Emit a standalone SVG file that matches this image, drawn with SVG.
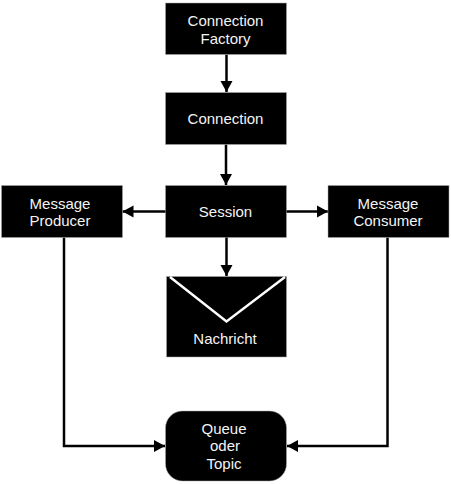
<svg xmlns="http://www.w3.org/2000/svg" width="451" height="484" viewBox="0 0 451 484">
<style>
.box{fill:#000;stroke:#aaa;stroke-width:.5}
.t{fill:#f4f4f4;font-family:"Liberation Sans",Arial,sans-serif;font-size:15px;text-anchor:middle}
.c{fill:none;stroke:#000;stroke-width:2.500}
</style>
<defs>
<marker id="a" markerUnits="userSpaceOnUse" markerWidth="13" markerHeight="14" refX="11" refY="7" orient="auto"><path d="M0 1L11 7L0 13z" fill="#000"/></marker>
</defs>
<rect width="451" height="484" fill="#fff"/>
<g id="connectors">
<path class="c" marker-end="url(#a)" d="M226.500 54.500V92"/>
<path class="c" marker-end="url(#a)" d="M226 144.500V185"/>
<path class="c" marker-end="url(#a)" d="M166 211.500H122.500"/>
<path class="c" marker-end="url(#a)" d="M286 211.500H328"/>
<path class="c" marker-end="url(#a)" d="M226.500 237V276"/>
<path class="c" marker-end="url(#a)" d="M64 237.500V446H165"/>
<path class="c" marker-end="url(#a)" d="M387.500 237.500V446H287"/>
</g>
<g id="connection-factory"><rect class="box" x="165.500" y="3" width="121" height="51.500"/><text class="t" x="225.500" y="26">Connection</text><text class="t" x="225.500" y="43.500">Factory</text></g>
<g id="connection"><rect class="box" x="165.500" y="92.500" width="121" height="52"/><text class="t" x="225.500" y="124">Connection</text></g>
<g id="session"><rect class="box" x="165.500" y="185.500" width="121" height="52"/><text class="t" x="225.500" y="217">Session</text></g>
<g id="message-producer"><rect class="box" x="1.500" y="185.500" width="121" height="52"/><text class="t" x="60" y="209">Message</text><text class="t" x="60" y="225.500">Producer</text></g>
<g id="message-consumer"><rect class="box" x="328" y="185.500" width="121" height="52"/><text class="t" x="388" y="209">Message</text><text class="t" x="388" y="225.500">Consumer</text></g>
<g id="nachricht"><rect class="box" x="166.500" y="276.500" width="120" height="80.500"/><path d="M170 277L226.500 321.500L285 277" fill="none" stroke="#fff" stroke-width="2.500"/><text class="t" x="225" y="343.500">Nachricht</text></g>
<g id="queue"><rect class="box" x="165.500" y="411" width="121" height="70" rx="17"/><text class="t" x="224" y="434">Queue</text><text class="t" x="225" y="451">oder</text><text class="t" x="224" y="468.500">Topic</text></g>
</svg>
